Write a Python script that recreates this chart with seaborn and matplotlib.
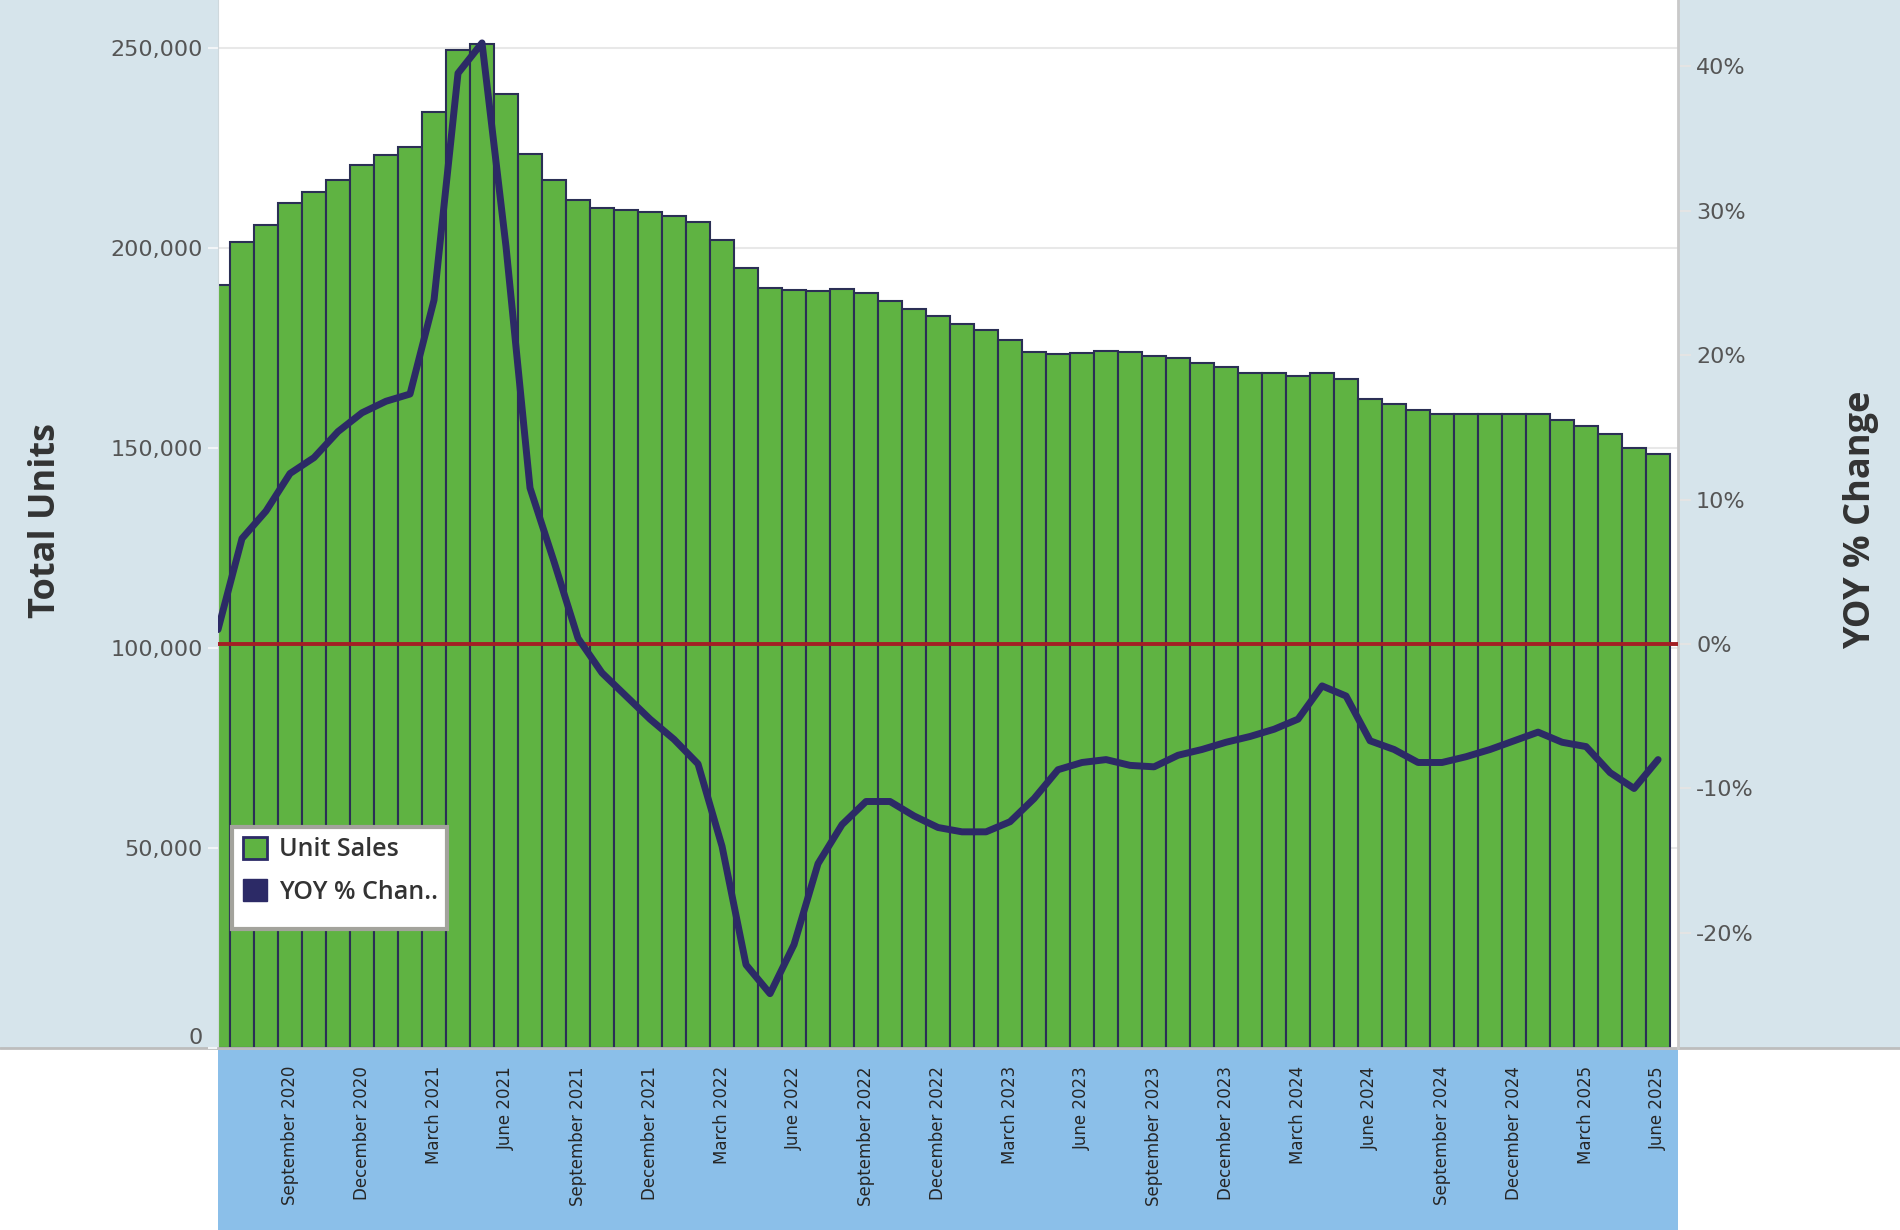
import numpy as np
import pandas as pd
import matplotlib
matplotlib.use("Agg")
import matplotlib.pyplot as plt
from matplotlib.patches import Rectangle, Patch
from matplotlib.lines import Line2D
from matplotlib.ticker import FuncFormatter
import seaborn as sns

# monthly data, June 2020 .. June 2025
months = pd.date_range("2020-06-01", periods=61, freq="MS")

unit_sales = [190600, 201500, 205600, 211100, 214000, 217000, 220600, 223100, 225100, 234000,
              249400, 250800, 238400, 223400, 217000, 212000, 209900, 209400, 208900, 207900,
              206500, 202000, 195000, 189900, 189400, 189300, 189800, 188800, 186800, 184800,
              183000, 181000, 179500, 176900, 173900, 173400, 173800, 174300, 173900, 172900,
              172400, 171300, 170200, 168800, 168800, 167900, 168800, 167200, 162100, 161000,
              159500, 158400, 158400, 158400, 158400, 158400, 157000, 155400, 153400, 150000,
              148400]

yoy_pct = [1.0, 7.3, 9.2, 11.8, 12.9, 14.7, 16.0, 16.8, 17.3, 23.8,
           39.5, 41.6, 27.5, 10.8, 5.7, 0.4, -2.0, -3.6, -5.2, -6.6,
           -8.3, -14.0, -22.2, -24.2, -20.8, -15.2, -12.5, -10.9, -10.9, -11.9,
           -12.7, -13.0, -13.0, -12.3, -10.7, -8.7, -8.2, -8.0, -8.4, -8.5,
           -7.7, -7.3, -6.8, -6.4, -5.9, -5.2, -2.9, -3.6, -6.7, -7.3,
           -8.2, -8.2, -7.8, -7.3, -6.7, -6.1, -6.8, -7.1, -8.9, -10.0,
           -8.0]

left_ticks = [0, 50000, 100000, 150000, 200000, 250000]
right_ticks = [-20, -10, 0, 10, 20, 30, 40]

green = "#5fb342"
navy = "#2c2a66"
edge = "#2b2f55"
red = "#a31f24"
panel = "#d6e4eb"
band = "#8bbfe9"

sns.set_style("white")
plt.rcParams["font.family"] = ["DejaVu Sans"]

W, H = 1900, 1230
x0, x1, ytop, ybot = 218, 1678, 0, 1048
pw, ph = x1 - x0, ybot - ytop

fig = plt.figure(figsize=(19, 12.3), dpi=100, facecolor="white")

# side panels and bottom band
fig.add_artist(Rectangle((0, 1 - ybot / H), x0 / W, ybot / H, transform=fig.transFigure,
                         facecolor=panel, edgecolor="none", zorder=-2))
fig.add_artist(Rectangle((x1 / W, 1 - ybot / H), 1 - x1 / W, ybot / H, transform=fig.transFigure,
                         facecolor=panel, edgecolor="none", zorder=-2))
fig.add_artist(Rectangle((x0 / W, 0), (x1 - x0) / W, 1 - ybot / H, transform=fig.transFigure,
                         facecolor=band, edgecolor="none", zorder=-2))
fig.add_artist(Line2D([0, 1], [1 - ybot / H] * 2, transform=fig.transFigure,
                      color="#bdbdbd", lw=2, zorder=-1))

ax = fig.add_axes([x0 / W, 1 - ybot / H, pw / W, ph / H])
pos = np.arange(len(months))

sns.barplot(x=pos, y=unit_sales, color=green, saturation=1, width=1.0,
            edgecolor=edge, linewidth=1.5, errorbar=None, ax=ax, zorder=2)
ax.set_ylim(0, 261900)
ax.set_xlim(0, 60.83)
ax.set_yticks(left_ticks)
ax.yaxis.set_major_formatter(FuncFormatter(lambda v, p: f"{int(v):,}"))
ax.grid(axis="y", color="#e8e8e8", lw=1.5)
ax.grid(axis="x", visible=False)
ax.set_axisbelow(True)
ax.tick_params(axis="y", length=7, width=1.5, color="#f2f5f7", pad=4,
               labelsize=16, labelcolor="#555555")
lbls = ax.get_yticklabels()
lbls[0].set_va("bottom")

tick_idx = list(range(3, 61, 3))
ax.set_xticks(tick_idx)
ax.set_xticklabels([months[i].strftime("%B %Y") for i in tick_idx], rotation=90,
                   va="top", ha="center", fontsize=12, color="#262626")
ax.tick_params(axis="x", length=0, pad=13)
ax.set_xlabel("")
ax.set_ylabel("")
for s in ["top", "right"]:
    ax.spines[s].set_visible(False)
ax.spines["left"].set_color("#cfd8dc")
ax.spines["bottom"].set_color("#bdbdbd")
ax.spines["bottom"].set_linewidth(2)

ax2 = ax.twinx()
ax2.axhline(0, color=red, lw=2.8, zorder=3)
sns.lineplot(x=pos, y=yoy_pct, color=navy, linewidth=5, ax=ax2, zorder=4)
ax2.set_ylim(-27.96, 44.57)
ax2.set_xlim(0, 60.83)
ax2.set_yticks(right_ticks)
ax2.yaxis.set_major_formatter(FuncFormatter(lambda v, p: f"{int(v)}%"))
ax2.tick_params(axis="y", length=9, width=1.5, color="#e4e4e4", pad=4,
                labelsize=16, labelcolor="#555555")
ax2.set_ylabel("")
ax2.grid(False)
for s in ["top", "left", "bottom"]:
    ax2.spines[s].set_visible(False)
ax2.spines["right"].set_color("#c9c9c9")
ax2.spines["right"].set_linewidth(2)

# legend box drawn by hand so its size matches
ax2.add_patch(Rectangle(((232 - x0) / pw, (ybot - 929) / ph), 215 / pw, 102 / ph,
                        transform=ax2.transAxes, facecolor="white", edgecolor="#a3a39c",
                        linewidth=3, zorder=5))
handles = [Patch(facecolor=green, edgecolor=navy, linewidth=2, label="Unit Sales"),
           Patch(facecolor=navy, edgecolor=navy, label="YOY % Chan..")]
leg = ax2.legend(handles=handles, loc="upper left",
                 bbox_to_anchor=((243 - x0) / pw, (ybot - 837) / ph),
                 borderaxespad=0, borderpad=0, frameon=False,
                 prop={"family": ["Open Sans", "DejaVu Sans"], "size": 18, "weight": "semibold"},
                 handlelength=0.95, handleheight=0.95, handletextpad=0.5,
                 labelspacing=0.68)
leg.set_zorder(6)
for t in leg.get_texts():
    t.set_color("#333333")

fig.text(46 / W, 1 - 520 / H, "Total Units", rotation=90, ha="center", va="center",
         fontsize=26, fontweight="bold", color="#333333", family=["Open Sans", "DejaVu Sans"])
fig.text(1861 / W, 1 - 520 / H, "YOY % Change", rotation=90, ha="center", va="center",
         fontsize=26, fontweight="bold", color="#333333", family=["Open Sans", "DejaVu Sans"])

fig.savefig("out.png", dpi=100, facecolor="white")
